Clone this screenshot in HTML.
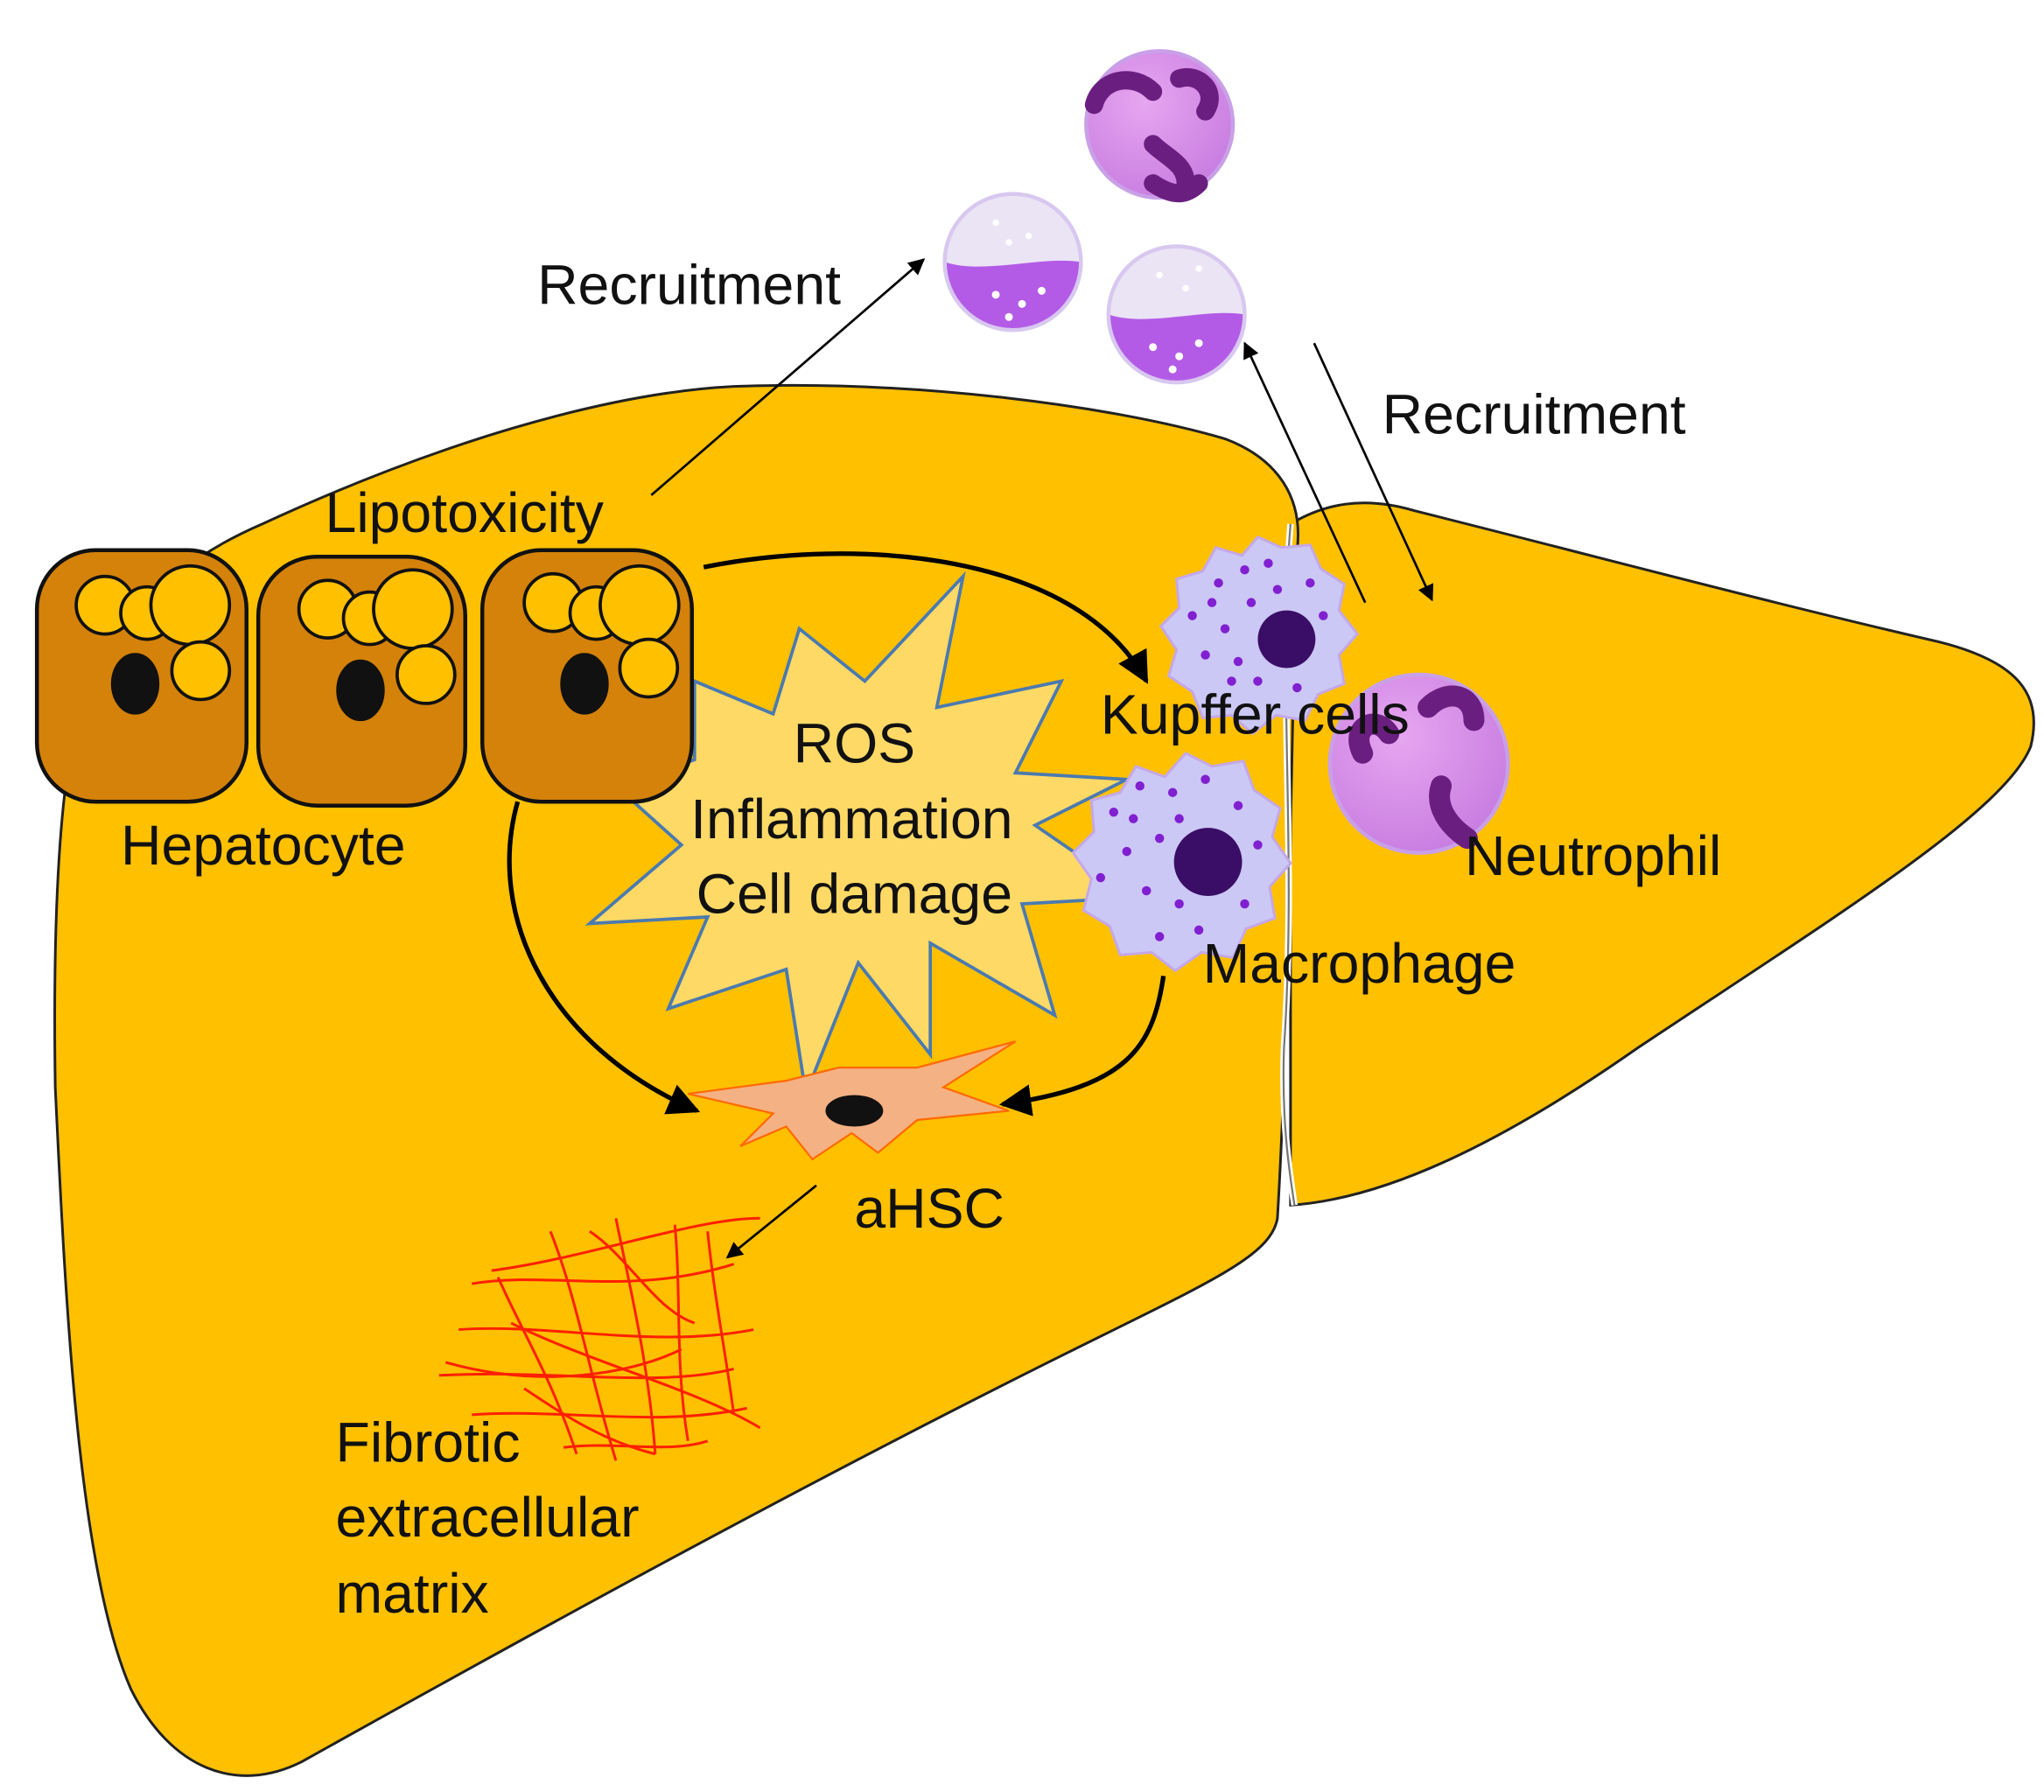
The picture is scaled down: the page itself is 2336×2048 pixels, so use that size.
<!DOCTYPE html>
<html><head><meta charset="utf-8"><style>html,body{margin:0;padding:0;background:#fff}svg{display:block}text{font-family:"Liberation Sans",sans-serif;font-size:43px;fill:#111}</style></head>
<body>
<svg width="2336" height="2048" viewBox="0 0 1560 1368" xmlns="http://www.w3.org/2000/svg">
<defs>
<marker id="a" viewBox="0 0 10 10" refX="9" refY="5" markerWidth="7" markerHeight="7" orient="auto-start-reverse"><path d="M0,0L10,5L0,10z" fill="#000"/></marker>
<radialGradient id="ng" cx="0.4" cy="0.35" r="0.7"><stop offset="0" stop-color="#e7a6f0"/><stop offset="1" stop-color="#c77ce0"/></radialGradient>
</defs>
<path d="M985,400 C1010,385 1040,378 1080,390 C1200,420 1350,460 1480,490 C1540,505 1560,530 1550,570 C1530,620 1400,700 1250,800 C1150,870 1060,915 985,920 Z" fill="#FFC000" stroke="#222" stroke-width="2"/>
<path d="M60,545 C80,480 130,430 200,400 C330,340 460,300 560,295 C700,290 850,310 935,335 C975,350 995,380 990,420 C985,560 985,760 975,930 C970,960 920,980 800,1040 C600,1140 400,1250 230,1345 C180,1370 130,1350 100,1290 C60,1200 50,1000 42,830 C40,700 45,600 60,545 Z" fill="#FFC000" stroke="#222" stroke-width="2"/>
<path d="M985,400 C975,520 990,650 980,800 C978,860 985,900 988,920" fill="none" stroke="#fff" stroke-width="5"/>
<path d="M985,400 C975,520 990,650 980,800 C978,860 985,900 988,920" fill="none" stroke="#777" stroke-width="1.5"/>
<polygon points="735,440 715,540 810,520 775,590 860,595 790,630 870,685 780,690 805,775 710,720 710,805 655,735 615,835 600,740 510,770 540,700 450,705 520,645 470,600 530,580 530,520 590,545 610,480 660,520" fill="#FFD966" stroke="#4a7ab0" stroke-width="2.5"/>
<g stroke="#111" stroke-width="3">
<rect x="28" y="420" width="160" height="192" rx="45" fill="#D4820A"/>
<rect x="197" y="425" width="158" height="190" rx="45" fill="#D4820A"/>
<rect x="368" y="420" width="160" height="192" rx="45" fill="#D4820A"/>
<g fill="#FFC000" stroke-width="2.5">
<circle cx="80" cy="462" r="22"/><circle cx="112" cy="468" r="20"/><circle cx="145" cy="462" r="30"/><circle cx="153" cy="512" r="22"/>
<circle cx="250" cy="465" r="22"/><circle cx="282" cy="472" r="20"/><circle cx="315" cy="465" r="30"/><circle cx="325" cy="515" r="22"/>
<circle cx="422" cy="460" r="22"/><circle cx="455" cy="468" r="20"/><circle cx="488" cy="462" r="30"/><circle cx="495" cy="510" r="22"/>
</g>
<g fill="#111"><ellipse cx="103" cy="522" rx="17" ry="22"/><ellipse cx="275" cy="527" rx="17" ry="22"/><ellipse cx="446" cy="522" rx="17" ry="22"/></g>
</g>
<circle cx="885" cy="95" r="56" fill="url(#ng)" stroke="#c9a0e8" stroke-width="3"/>
<path d="M835,80 C840,60 865,55 880,70 M900,60 C915,55 930,70 920,85 M880,110 C890,120 905,125 905,140 M880,140 C895,150 905,150 915,140" stroke="#6a1f80" stroke-width="14" fill="none" stroke-linecap="round"/>
<circle cx="1083" cy="583" r="68" fill="url(#ng)" stroke="#c9a0e8" stroke-width="3"/>
<path d="M1040,575 C1030,555 1050,545 1060,560 M1090,540 C1105,525 1125,530 1125,550 M1100,600 C1095,615 1105,630 1120,640" stroke="#6a1f80" stroke-width="16" fill="none" stroke-linecap="round"/>
<circle cx="773" cy="200" r="52" fill="#ebe4f5"/>
<path d="M721,200 C750,210 795,195 825,200 A52,52 0 0 1 721,200Z" fill="#b35be6"/>
<circle cx="773" cy="200" r="52" fill="none" stroke="#d8c8ef" stroke-width="3"/>
<circle cx="898" cy="240" r="52" fill="#ebe4f5"/>
<path d="M846,240 C875,250 920,235 950,240 A52,52 0 0 1 846,240Z" fill="#b35be6"/>
<circle cx="898" cy="240" r="52" fill="none" stroke="#d8c8ef" stroke-width="3"/>
<g fill="#fff"><circle cx="760" cy="225" r="3"/><circle cx="780" cy="232" r="3"/><circle cx="795" cy="222" r="3"/><circle cx="770" cy="242" r="3"/><circle cx="760" cy="170" r="2.5"/><circle cx="785" cy="180" r="2.5"/><circle cx="770" cy="185" r="2.5"/>
<circle cx="880" cy="265" r="3"/><circle cx="900" cy="272" r="3"/><circle cx="915" cy="262" r="3"/><circle cx="895" cy="282" r="3"/><circle cx="885" cy="210" r="2.5"/><circle cx="905" cy="220" r="2.5"/><circle cx="915" cy="205" r="2.5"/></g>
<g fill="#ccc8f5" stroke="#c4a8e8" stroke-width="2">
<path d="M960,410 l18,8 22,-2 8,18 18,12 -4,20 14,18 -14,16 4,22 -20,8 -10,20 -22,-4 -18,14 -16,-14 -22,2 -8,-20 -18,-12 6,-20 -12,-18 14,-14 -2,-22 20,-6 10,-18 20,6z"/>
<path d="M905,575 l20,10 24,-4 8,22 20,14 -6,22 14,20 -16,18 4,24 -22,8 -10,22 -24,-4 -20,14 -18,-14 -24,2 -8,-22 -20,-12 6,-24 -14,-20 16,-16 -2,-24 22,-6 12,-20 22,8z"/>
</g>
<circle cx="982" cy="488" r="22" fill="#3a0e66"/>
<circle cx="922" cy="658" r="26" fill="#3a0e66"/>
<g fill="#8020d0">
<circle cx="930" cy="445" r="3.5"/><circle cx="950" cy="435" r="3.5"/><circle cx="910" cy="470" r="3.5"/><circle cx="935" cy="480" r="3.5"/><circle cx="955" cy="460" r="3.5"/><circle cx="920" cy="500" r="3.5"/><circle cx="945" cy="505" r="3.5"/><circle cx="975" cy="450" r="3.5"/><circle cx="1000" cy="445" r="3.5"/><circle cx="960" cy="520" r="3.5"/><circle cx="990" cy="525" r="3.5"/><circle cx="1010" cy="470" r="3.5"/><circle cx="925" cy="460" r="3.5"/><circle cx="968" cy="430" r="3.5"/><circle cx="940" cy="520" r="3.5"/>
<circle cx="850" cy="620" r="3.5"/><circle cx="870" cy="600" r="3.5"/><circle cx="895" cy="605" r="3.5"/><circle cx="920" cy="595" r="3.5"/><circle cx="860" cy="650" r="3.5"/><circle cx="885" cy="640" r="3.5"/><circle cx="840" cy="670" r="3.5"/><circle cx="875" cy="680" r="3.5"/><circle cx="900" cy="690" r="3.5"/><circle cx="945" cy="615" r="3.5"/><circle cx="960" cy="645" r="3.5"/><circle cx="950" cy="690" r="3.5"/><circle cx="915" cy="710" r="3.5"/><circle cx="885" cy="715" r="3.5"/><circle cx="865" cy="625" r="3.5"/><circle cx="900" cy="625" r="3.5"/>
</g>
<path d="M525,835 L600,825 640,815 700,815 775,795 720,830 770,848 700,855 670,880 650,865 620,885 600,860 565,875 590,850Z" fill="#F4B183" stroke="#ff6a00" stroke-width="1.5"/>
<ellipse cx="652" cy="848" rx="22" ry="12" fill="#111"/>
<g stroke="#ff2000" stroke-width="2" fill="none">
<path d="M360,980 C420,970 480,990 560,965"/><path d="M350,1015 C420,1010 500,1030 575,1015"/><path d="M335,1050 C420,1045 500,1060 560,1045"/><path d="M360,1080 C430,1075 500,1090 570,1075"/><path d="M430,1105 C470,1100 510,1110 540,1100"/>
<path d="M380,975 C400,1020 420,1050 440,1110"/><path d="M420,940 C440,990 450,1050 470,1115"/><path d="M470,930 C480,980 495,1040 500,1110"/><path d="M515,935 C520,990 515,1040 525,1100"/><path d="M540,940 C545,990 555,1040 560,1080"/>
<path d="M375,970 C450,960 530,930 580,930"/><path d="M390,1010 C450,1040 530,1060 580,1090"/><path d="M340,1040 C410,1060 480,1050 520,1030"/>
<path d="M400,1060 C430,1080 460,1100 500,1110"/><path d="M450,940 C480,960 500,1000 530,1010"/>
</g>
<g stroke="#000" fill="none">
<path d="M497,378 L705,198" stroke-width="1.8" marker-end="url(#a)"/>
<path d="M1042,460 L950,262" stroke-width="1.8" marker-end="url(#a)"/>
<path d="M1003,262 L1093,458" stroke-width="1.8" marker-end="url(#a)"/>
<path d="M537,433 C650,410 820,420 875,520" stroke-width="3.5" marker-end="url(#a)"/>
<path d="M395,612 C370,700 420,800 532,848" stroke-width="3.5" marker-end="url(#a)"/>
<path d="M888,745 C880,800 860,830 765,843" stroke-width="3.5" marker-end="url(#a)"/>
<path d="M623,905 L555,960" stroke-width="1.8" marker-end="url(#a)"/>
</g>
<text x="410" y="232">Recruitment</text>
<text x="1055" y="331">Recruitment</text>
<text x="248" y="406">Lipotoxicity</text>
<text x="92" y="660">Hepatocyte</text>
<text x="652" y="582" text-anchor="middle">ROS</text>
<text x="650" y="640" text-anchor="middle">Inflammation</text>
<text x="652" y="697" text-anchor="middle">Cell damage</text>
<text x="840" y="560">Kupffer cells</text>
<text x="1118" y="668">Neutrophil</text>
<text x="918" y="750">Macrophage</text>
<text x="652" y="937">aHSC</text>
<text x="256" y="1116">Fibrotic</text>
<text x="256" y="1173">extracellular</text>
<text x="256" y="1231">matrix</text>
</svg>
</body></html>
